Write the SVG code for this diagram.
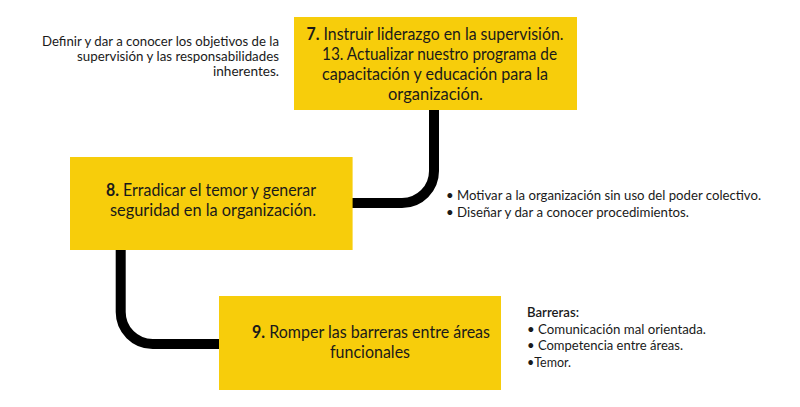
<svg xmlns="http://www.w3.org/2000/svg" width="800" height="407" viewBox="0 0 800 407">
<style>
.box{fill:#F7CD0B}
.t{font-family:Lato,"Liberation Sans",sans-serif;fill:#1a1a1a}
.big{font-size:16.5px}
.sm{font-size:13px}
.c{text-anchor:middle}
.r{text-anchor:end}
.b{font-weight:bold}
.conn{fill:none;stroke:#000;stroke-width:10}
</style>
<rect width="800" height="407" fill="#fff"/>
<g id="connectors">
<path class="conn" d="M434 110 V171 A32 32 0 0 1 402 203 H352"/>
<path class="conn" d="M120.7 250 V312 A32 32 0 0 0 152.7 344 H219"/>
</g>
<g id="node7">
<rect class="box" x="294" y="17" width="283" height="93"/>
<text class="t big c" x="435" y="40" textLength="257" lengthAdjust="spacingAndGlyphs"><tspan class="b">7.</tspan> Instruir liderazgo en la supervisión.</text>
<text class="t big c" x="439.5" y="60" textLength="235" lengthAdjust="spacingAndGlyphs">13. Actualizar nuestro programa de</text>
<text class="t big c" x="435" y="80" textLength="226" lengthAdjust="spacingAndGlyphs">capacitación y educación para la</text>
<text class="t big c" x="435.5" y="100" textLength="95" lengthAdjust="spacingAndGlyphs">organización.</text>
</g>
<g id="note7">
<text class="t sm r" x="279" y="46" textLength="237" lengthAdjust="spacingAndGlyphs">Definir y dar a conocer los objetivos de la</text>
<text class="t sm r" x="279" y="61" textLength="202" lengthAdjust="spacingAndGlyphs">supervisión y las responsabilidades</text>
<text class="t sm r" x="279" y="76" textLength="66" lengthAdjust="spacingAndGlyphs">inherentes.</text>
</g>
<g id="node8">
<rect class="box" x="70" y="157" width="282.6" height="93"/>
<text class="t big c" x="211" y="196" textLength="210" lengthAdjust="spacingAndGlyphs"><tspan class="b">8.</tspan> Erradicar el temor y generar</text>
<text class="t big c" x="213" y="216" textLength="206" lengthAdjust="spacingAndGlyphs">seguridad en la organización.</text>
</g>
<g id="note8">
<text class="t sm" x="446" y="200" textLength="315" lengthAdjust="spacingAndGlyphs">• Motivar a la organización sin uso del poder colectivo.</text>
<text class="t sm" x="446" y="217" textLength="243" lengthAdjust="spacingAndGlyphs">• Diseñar y dar a conocer procedimientos.</text>
</g>
<g id="node9">
<rect class="box" x="219" y="296" width="282" height="94"/>
<text class="t big c" x="371" y="338" textLength="238" lengthAdjust="spacingAndGlyphs"><tspan class="b">9.</tspan> Romper las barreras entre áreas</text>
<text class="t big c" x="370" y="358" textLength="80" lengthAdjust="spacingAndGlyphs">funcionales</text>
</g>
<g id="note9">
<text class="t sm" x="527" y="317" textLength="52" lengthAdjust="spacingAndGlyphs" font-weight="600">Barreras:</text>
<text class="t sm" x="527" y="334" textLength="179" lengthAdjust="spacingAndGlyphs">• Comunicación mal orientada.</text>
<text class="t sm" x="527" y="350" textLength="156" lengthAdjust="spacingAndGlyphs">• Competencia entre áreas.</text>
<text class="t sm" x="527" y="367" textLength="44" lengthAdjust="spacingAndGlyphs">•Temor.</text>
</g>
</svg>
